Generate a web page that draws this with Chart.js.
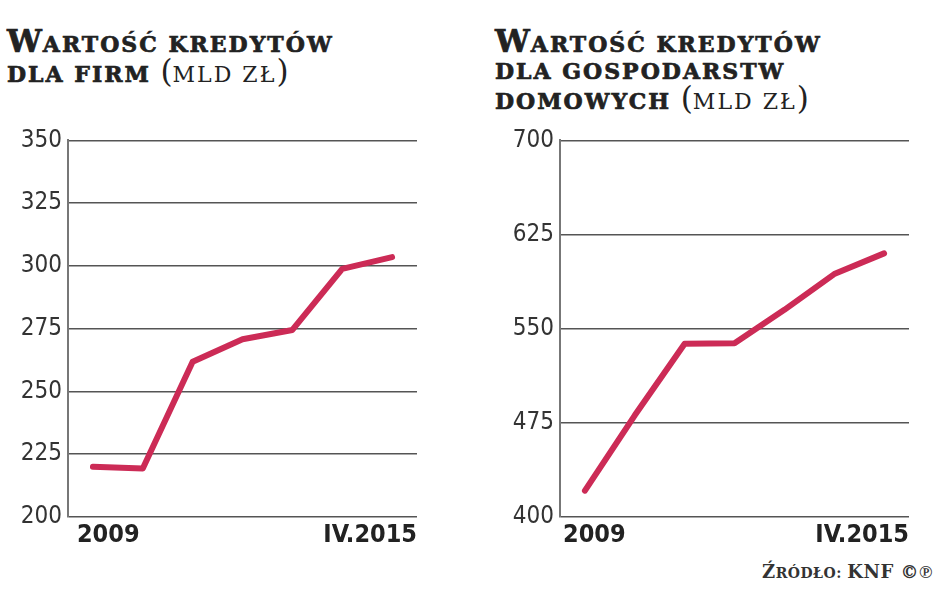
<!DOCTYPE html>
<html>
<head>
<meta charset="utf-8">
<script src="https://cdn.jsdelivr.net/npm/chart.js@4.4.0/dist/chart.umd.min.js"></script>
<style>
  body { margin: 0; width: 948px; height: 593px; background: #fff; position: relative; overflow: hidden; }
  .title { position: absolute; font-family: 'DejaVu Serif', serif; font-weight: bold; color: #222;
           font-size: 22px; line-height: 27px; letter-spacing: 2px; white-space: nowrap;
           -webkit-text-stroke: 0.7px #222; }
  .title .big { font-size: 31px; letter-spacing: 1px; }
  .title .unit { font-weight: normal; -webkit-text-stroke: 0; }
  .title .par { font-size: 31px; font-weight: normal; letter-spacing: 0; -webkit-text-stroke: 0; }
  canvas { position: absolute; }
  #source { position: absolute; left: 762px; top: 561px; font-family: 'DejaVu Serif', serif; font-weight: bold;
            color: #333; font-size: 14px; letter-spacing: 0.5px; white-space: nowrap; }
  #source .big { font-size: 18px; }
</style>
</head>
<body>
<div class="title" style="left:7px; top:28px;">
  <span class="big">W</span>ARTOŚĆ KREDYTÓW<br>DLA FIRM <span class="par">(</span><span class="unit">MLD ZŁ</span><span class="par">)</span>
</div>
<div class="title" style="left:495px; top:28px;">
  <span class="big">W</span>ARTOŚĆ KREDYTÓW<br>DLA GOSPODARSTW<br>DOMOWYCH <span class="par">(</span><span class="unit">MLD ZŁ</span><span class="par">)</span>
</div>
<canvas id="firms" width="420" height="437" style="left:0; top:120px;"></canvas>
<canvas id="households" width="432" height="437" style="left:480px; top:120px;"></canvas>
<div id="source"><span class="big">Ź</span>RÓDŁO: <span class="big">KNF ©℗</span></div>

<script>
// Wartość kredytów (mld zł)
const categories = ['2009', '2010', '2011', '2012', '2013', '2014', 'IV.2015'];
const firmValues = [220, 219.3, 261.8, 270.8, 274.5, 298.8, 303.5];
const householdValues = [421, 481, 538, 538.5, 565, 593.5, 610];
const firmTicks = [200, 225, 250, 275, 300, 325, 350];
const householdTicks = [400, 475, 550, 625, 700];
const xTickLabels = ['2009', 'IV.2015'];

const tickFont = "'Liberation Sans Narrow', 'DejaVu Sans Condensed', sans-serif";

function drawChart(id, values, yTicks, axisWidth, firstLabelAt) {
  const ctx = document.getElementById(id).getContext('2d');
  return new Chart(ctx, {
    type: 'line',
    data: {
      labels: categories,
      datasets: [
        {
          data: values,
          borderColor: '#cc2b56',
          borderWidth: 6,
          borderCapStyle: 'round',
          borderJoinStyle: 'round',
          pointRadius: 0,
          tension: 0,
        },
      ],
    },
    options: {
      responsive: false,
      animation: false,
      layout: { padding: { right: 2 } },
      plugins: { legend: { display: false }, tooltip: { enabled: false } },
      scales: {
        x: { display: false, offset: true },
        xLab: {
          type: 'linear',
          position: 'bottom',
          min: -0.5,
          max: categories.length - 0.5,
          grid: { display: false, drawTicks: false },
          border: { display: false },
          afterBuildTicks: (scale) => {
            scale.ticks = [{ value: firstLabelAt }, { value: categories.length - 0.5 }];
          },
          afterFit: (scale) => { scale.height = 40; },
          ticks: {
            align: 'inner',
            padding: 3,
            color: '#222',
            font: { family: tickFont, size: 25, weight: 'bold' },
            callback: (v, i) => xTickLabels[i],
          },
        },
        y: {
          min: yTicks[0],
          max: yTicks[yTicks.length - 1],
          afterBuildTicks: (scale) => {
            scale.ticks = yTicks.map((v) => ({ value: v }));
          },
          afterFit: (scale) => { scale.width = axisWidth; },
          grid: { color: '#555', lineWidth: 1.5, drawTicks: false },
          border: { display: true, color: '#777', width: 2 },
          ticks: {
            padding: 6,
            color: '#333',
            font: { family: tickFont, size: 24 },
          },
        },
      },
    },
  });
}

drawChart('firms', firmValues, firmTicks, 68, -0.32);
drawChart('households', householdValues, householdTicks, 80, -0.44);
</script>
</body>
</html>
